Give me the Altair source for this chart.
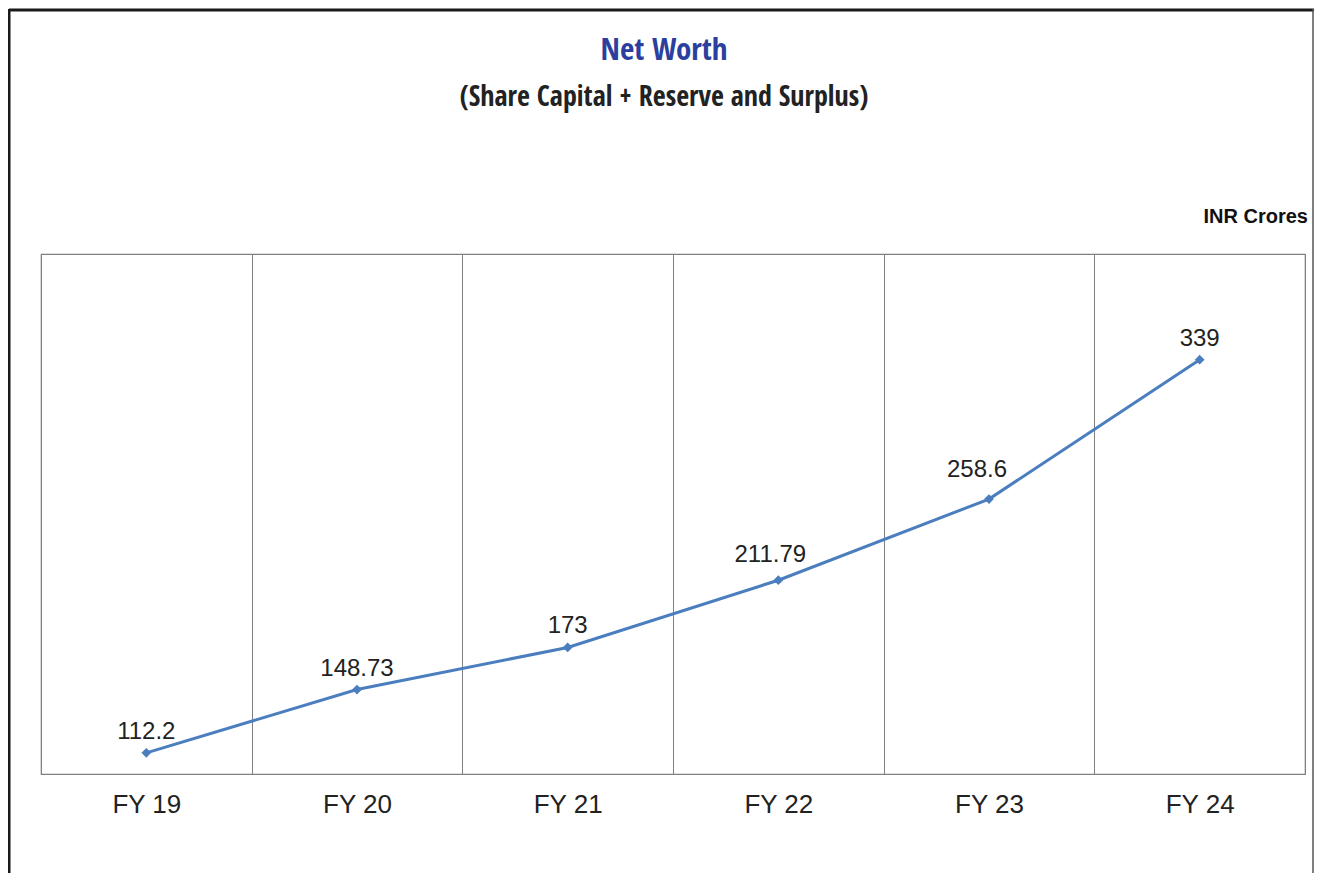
import altair as alt
import pandas as pd

years = ["FY 19", "FY 20", "FY 21", "FY 22", "FY 23", "FY 24"]
net_worth = [112.2, 148.73, 173, 211.79, 258.6, 339]
labels = ["112.2", "148.73", "173", "211.79", "258.6", "339"]

df = pd.DataFrame({"year": years, "value": net_worth, "label": labels})

W, H = 1264, 520
PL, PT = 33, 246
PR = 1306 - PL - W
PB = 865 - PT - H

narrow = "Liberation Sans Narrow, Noto Sans Condensed, Open Sans Condensed, DejaVu Sans Condensed, sans-serif"
sans = "Liberation Sans, Arial, Helvetica, sans-serif"

x = alt.X("year:N", sort=years, title=None,
          scale=alt.Scale(paddingInner=0, paddingOuter=0),
          axis=alt.Axis(labelAngle=0, labelFont=sans, labelFontSize=26,
                        labelColor="#222222", labelPadding=17, ticks=False,
                        domain=False, grid=True, gridColor="#808080",
                        gridWidth=1, tickBand="extent"))
y = alt.Y("value:Q", title=None,
          scale=alt.Scale(domain=[100, 400], nice=False, zero=False),
          axis=None)

base = alt.Chart(df)

line = base.mark_line(color="#4A7EBF", strokeWidth=3).encode(x=x, y=y)
pts = base.mark_point(shape="diamond", filled=True, size=95, opacity=1,
                      color="#4A7EBF").encode(x=x, y=y)
txt_style = dict(font=sans, fontSize=24, color="#222222", baseline="alphabetic")
txt = base.mark_text(dy=-14, **txt_style).encode(x=x, y=y, text="label:N").transform_filter(
    alt.FieldOneOfPredicate(field="year", oneOf=["FY 19", "FY 20", "FY 21", "FY 24"]))
txt22 = base.mark_text(dx=-8, dy=-18, **txt_style).encode(x=x, y=y, text="label:N").transform_filter(
    alt.datum.year == "FY 22")
txt23 = base.mark_text(dx=-12, dy=-22, **txt_style).encode(x=x, y=y, text="label:N").transform_filter(
    alt.datum.year == "FY 23")

title_df = pd.DataFrame({"t": ["Net Worth"]})
title = alt.Chart(title_df).mark_text(font=narrow, fontSize=31, fontWeight="bold",
                                      color="#2B3F9E", baseline="alphabetic",
                                      align="center").encode(
    x=alt.value(623), y=alt.value(-194), text="t:N")
sub_df = pd.DataFrame({"t": ["(Share Capital + Reserve and Surplus)"]})
subtitle = alt.Chart(sub_df).mark_text(font=narrow, fontSize=28, fontWeight="bold",
                                       color="#222222", baseline="alphabetic",
                                       align="center").encode(
    x=alt.value(623), y=alt.value(-148), text="t:N")
unit_df = pd.DataFrame({"t": ["INR Crores"]})
unit = alt.Chart(unit_df).mark_text(font=sans, fontSize=20, fontWeight="bold",
                                    color="#111111", baseline="alphabetic",
                                    align="right").encode(
    x=alt.value(1267), y=alt.value(-31), text="t:N")

frame_top = alt.Chart(title_df).mark_rule(color="#1a1a1a", strokeWidth=3).encode(
    x=alt.value(-32), x2=alt.value(1274), y=alt.value(-244))
frame_left = alt.Chart(title_df).mark_rule(color="#1a1a1a", strokeWidth=3).encode(
    x=alt.value(-32), y=alt.value(-245), y2=alt.value(640))
frame_right = alt.Chart(title_df).mark_rule(color="#555555", strokeWidth=1.5).encode(
    x=alt.value(1272), y=alt.value(-245), y2=alt.value(640))

chart = alt.layer(frame_top, frame_left, frame_right, line, pts, txt, txt22, txt23,
                  title, subtitle, unit).properties(
    width=W, height=H,
    padding={"left": PL, "top": PT, "right": PR, "bottom": PB},
    autosize=alt.AutoSizeParams(type="none"),
    background="white",
).configure_view(stroke="#808080", strokeWidth=1.2)

chart.save("out.html", embed_options={"renderer": "svg", "actions": False})
